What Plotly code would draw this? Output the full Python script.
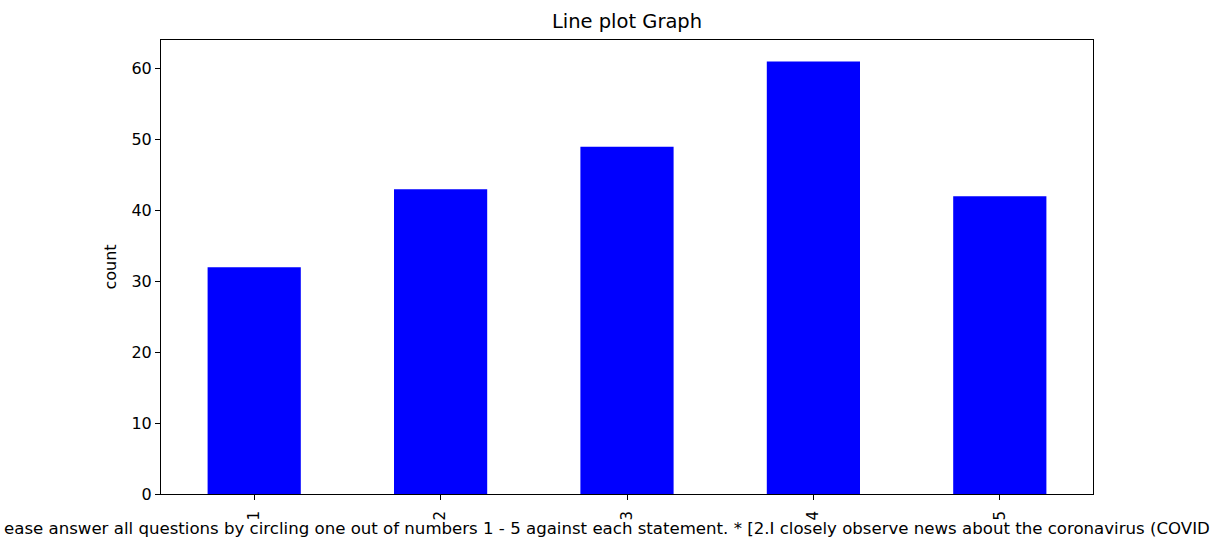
import plotly.graph_objects as go

categories = ["1", "2", "3", "4", "5"]
counts = [32, 43, 49, 61, 42]
y_ticks = [0, 10, 20, 30, 40, 50, 60]
title_text = "Line plot Graph"
y_title = "count"
x_title_visible = ("ease answer all questions by circling one out of numbers 1 - 5 against each "
                   "statement. * [2.I closely observe news about the coronavirus (COVID")

FONT = "DejaVu Sans"
W, H = 1225, 540
L, R, T, B = 161, W - 1093, 40, H - 494
pw = W - L - R

fig = go.Figure(go.Bar(x=categories, y=counts, marker=dict(color="#0000ff", line=dict(width=0)),
                       width=0.5))

fig.update_layout(
    width=W, height=H,
    margin=dict(l=L, r=R, t=T, b=B, pad=0),
    paper_bgcolor="white", plot_bgcolor="white",
    font=dict(family=FONT, size=16, color="#000000"),
    title=dict(text=title_text, x=(L + pw / 2) / W, xanchor="center",
               y=1 - 21 / H, yanchor="middle", font=dict(size=19.5)),
    showlegend=False,
)
fig.update_xaxes(
    type="category", range=[-0.5, 4.5], tickangle=-90, automargin=False,
    showline=True, mirror=True, linecolor="black", linewidth=1,
    ticks="outside", ticklen=5, tickcolor="black", showgrid=False,
    tickfont=dict(size=15), ticklabelstandoff=5,
)
fig.update_yaxes(
    range=[0, 64.05], tickvals=y_ticks, automargin=False,
    showline=True, mirror=True, linecolor="black", linewidth=1,
    ticks="outside", ticklen=5, tickcolor="black", showgrid=False, zeroline=False,
    title=dict(text=y_title, font=dict(size=16), standoff=10),
    tickfont=dict(size=16),
)
fig.add_annotation(
    text=x_title_visible, xref="paper", yref="paper",
    x=-(L - 2) / pw, y=0, xanchor="left", yanchor="middle", yshift=-34,
    showarrow=False, font=dict(size=16.6, family=FONT),
)
fig.write_html("out.html", config={"displayModeBar": False},
               post_script="document.body.style.margin='0';")
